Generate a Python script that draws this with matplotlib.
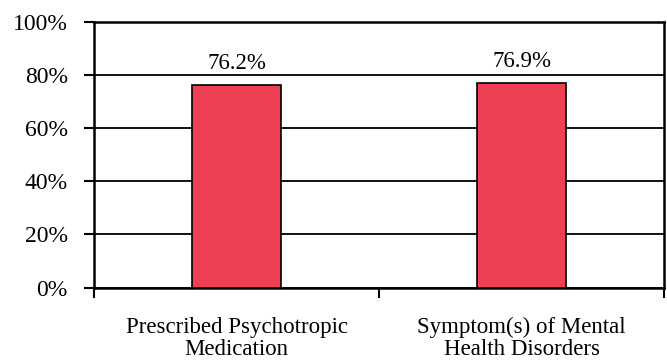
import matplotlib
matplotlib.use("Agg")
import matplotlib.pyplot as plt
import matplotlib.transforms as mtransforms
import numpy as np

categories = ["Prescribed Psychotropic\nMedication", "Symptom(s) of Mental\nHealth Disorders"]
values = [76.2, 76.9]
yticks = [0, 20, 40, 60, 80, 100]
ytick_labels = ["0%", "20%", "40%", "60%", "80%", "100%"]

plt.rcParams["font.family"] = "Liberation Serif"

fig = plt.figure(figsize=(6.67, 3.6), dpi=100)
ax = fig.add_axes([0.141, 0.2008, 0.8545, 0.7392])

x = np.arange(len(categories))
ax.bar(x, values, width=0.31, color="#EE3F55", edgecolor="black", linewidth=1.2, zorder=3)

for xi, v in zip(x, values):
    ax.annotate(f"{v:.1f}%", xy=(xi, v), xytext=(0, 8), textcoords="offset points",
                ha="center", va="bottom", fontsize=16.5)

ax.set_xlim(-0.5, len(categories) - 0.5)
ax.set_ylim(0, 100)
ax.set_yticks(yticks)
ax.set_yticklabels(ytick_labels, fontsize=17)
ax.yaxis.grid(True, color="black", linewidth=1.3, zorder=0)

# category boundaries carry the x ticks
ax.set_xticks([-0.5, 0.5, 1.5])
ax.set_xticklabels([])
ax.tick_params(axis="x", which="major", direction="out", length=7, width=1.5)
ax.tick_params(axis="y", direction="out", length=7, width=1.5, pad=12)

# two-line category names, centred under each bar
trans = mtransforms.blended_transform_factory(ax.transData, ax.transAxes)
line_offsets = [-32.5, -48.5]
for xi, name in zip(x, categories):
    for line, dy in zip(name.split("\n"), line_offsets):
        ax.annotate(line, xy=(xi, 0), xycoords=trans, xytext=(0, dy),
                    textcoords="offset points", ha="center", va="baseline",
                    fontsize=16.5, annotation_clip=False)

for side in ["left", "right", "top", "bottom"]:
    ax.spines[side].set_linewidth(1.8)
    ax.spines[side].set_color("black")

fig.savefig("out.png", dpi=100)
